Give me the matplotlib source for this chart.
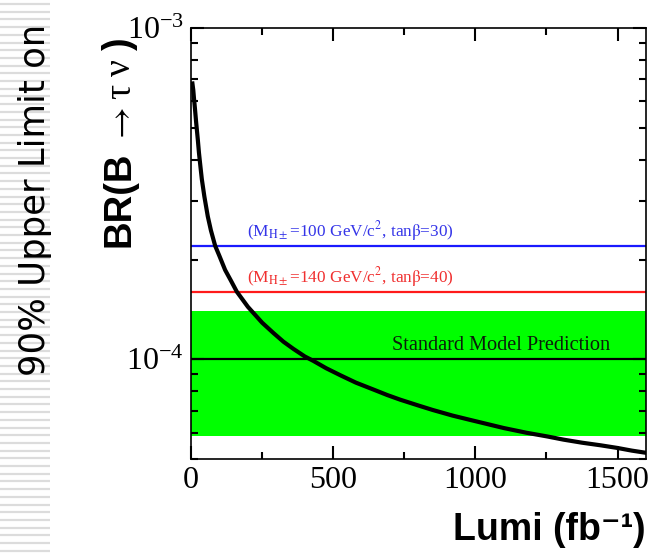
import numpy as np
import matplotlib
matplotlib.use('Agg')
import matplotlib.pyplot as plt
from matplotlib.ticker import LogLocator, FixedLocator, NullFormatter

plt.rcParams['mathtext.fontset'] = 'stix'
plt.rcParams['font.family'] = ['Liberation Serif', 'DejaVu Serif']

# Luminosity (fb^-1) vs 90% upper limit on BR(B -> tau nu)
lumi = [5, 8, 10, 14, 18, 24, 28, 32, 38, 47, 59, 70, 85, 100, 120, 140, 161,
        180, 200, 250, 290, 325, 360, 400, 431, 475, 525, 580, 642, 690, 736,
        800, 850, 920, 982, 1050, 1100, 1180, 1252, 1310, 1375, 1440, 1499,
        1550, 1600]
br_limit = [6.8e-4, 6.5e-4, 6.2e-4, 5.7e-4, 5.2e-4, 4.6e-4, 4.2e-4, 3.9e-4,
            3.5e-4, 3.1e-4, 2.7e-4, 2.45e-4, 2.2e-4, 2.05e-4, 1.86e-4, 1.73e-4,
            1.6e-4, 1.52e-4, 1.44e-4, 1.29e-4, 1.2e-4, 1.13e-4, 1.075e-4,
            1.02e-4, 9.88e-5, 9.4e-5, 8.95e-5, 8.5e-5, 8.1e-5, 7.8e-5, 7.55e-5,
            7.25e-5, 7.03e-5, 6.76e-5, 6.56e-5, 6.35e-5, 6.2e-5, 6.0e-5,
            5.85e-5, 5.72e-5, 5.6e-5, 5.5e-5, 5.4e-5, 5.3e-5, 5.22e-5]

# horizontal reference levels
sm_value = 1.0e-4
sm_band = (5.85e-5, 1.40e-4)
higgs_100 = 2.2e-4
higgs_140 = 1.6e-4

xlim = (0, 1600)
ylim = (5e-5, 1e-3)
xticks = [0, 500, 1000, 1500]
xminor = [250, 750, 1250]

fig = plt.figure(figsize=(6.6, 5.58), dpi=100)

# striped strip on the left edge (slide decoration)
strip = fig.add_axes([0, 0, 50 / 660, 1])
strip.set_xlim(0, 1)
strip.set_ylim(0, 558)
for yy in np.arange(554, 0, -7.7):
    strip.axhline(yy, color='#dcdcdc', lw=1.6)
strip.axis('off')

ax = fig.add_axes([191 / 660, 1 - 459 / 558, 455 / 660, 431 / 558])
ax.set_yscale('log')
ax.set_xlim(*xlim)
ax.set_ylim(*ylim)

ax.axhspan(sm_band[0], sm_band[1], color='#00ff00', lw=0, zorder=1)
ax.axhline(sm_value, color='black', lw=1.6, zorder=2)
ax.axhline(higgs_100, color='#1a1aff', lw=1.6, zorder=2)
ax.axhline(higgs_140, color='#ff1a1a', lw=1.6, zorder=2)
ax.plot(lumi, br_limit, color='black', lw=3, zorder=3, solid_joinstyle='round')

ax.text(197, higgs_100 * 1.02, r'(M$_{\mathrm{H\pm}}$=100 GeV/c$^2$, tan$\mathrm{\beta}$=30)',
        color='#3535e8', fontsize=12.4, va='bottom', ha='left')
ax.text(197, higgs_140 * 1.02, r'(M$_{\mathrm{H\pm}}$=140 GeV/c$^2$, tan$\mathrm{\beta}$=40)',
        color='#f03030', fontsize=12.4, va='bottom', ha='left')
ax.text(708, sm_value * 1.03, 'Standard Model Prediction', color='#0a1f0a',
        fontsize=14.6, va='bottom', ha='left')

ax.xaxis.set_major_locator(FixedLocator(xticks))
ax.xaxis.set_minor_locator(FixedLocator(xminor))
ax.yaxis.set_major_locator(LogLocator(base=10))
ax.yaxis.set_minor_locator(LogLocator(base=10, subs=np.arange(2, 10)))
ax.yaxis.set_minor_formatter(NullFormatter())
ax.tick_params(which='both', direction='in', top=True, right=True, width=1.5,
               labelsize=23)
ax.tick_params(which='major', length=9.5, pad=5)
ax.tick_params(which='minor', length=5)
for sp in ax.spines.values():
    sp.set_linewidth(1.2)

fig.text(646 / 660, 1 - 540 / 558, 'Lumi (fb\u207b\u00b9)', fontsize=27,
         fontweight='bold', family=['Liberation Sans', 'DejaVu Sans'],
         ha='right', va='baseline')

# y label: bold sans "BR(B", serif "→ τ ν", bold ")" chained along one baseline
sans = ['Liberation Sans', 'DejaVu Sans']
serif = ['Liberation Serif', 'DejaVu Serif']
pieces = [('BR(B', sans, 'bold', 27.5, 0),
          (r'$\rightarrow$', serif, 'normal', 25, 7),
          ('\u03c4', serif, 'normal', 27, 9),
          ('\u03bd', serif, 'normal', 27, 8),
          (')', sans, 'bold', 27.5, 9)]
renderer = fig.canvas.get_renderer()
ypix = 558 - 247
for txt, fam, wt, fs, gap in pieces:
    ypix += gap
    t = fig.text(130 / 660, ypix / 558, txt, fontsize=fs, fontweight=wt,
                 family=fam, rotation=90, rotation_mode='anchor',
                 ha='left', va='baseline')
    ypix = t.get_window_extent(renderer).y1

fig.text(35 / 660, 1 - 200 / 558, '90% Upper Limit on', fontsize=25.5,
         family=['DejaVu Sans'], rotation=90, ha='center', va='center')

fig.savefig('out.png', dpi=100)
